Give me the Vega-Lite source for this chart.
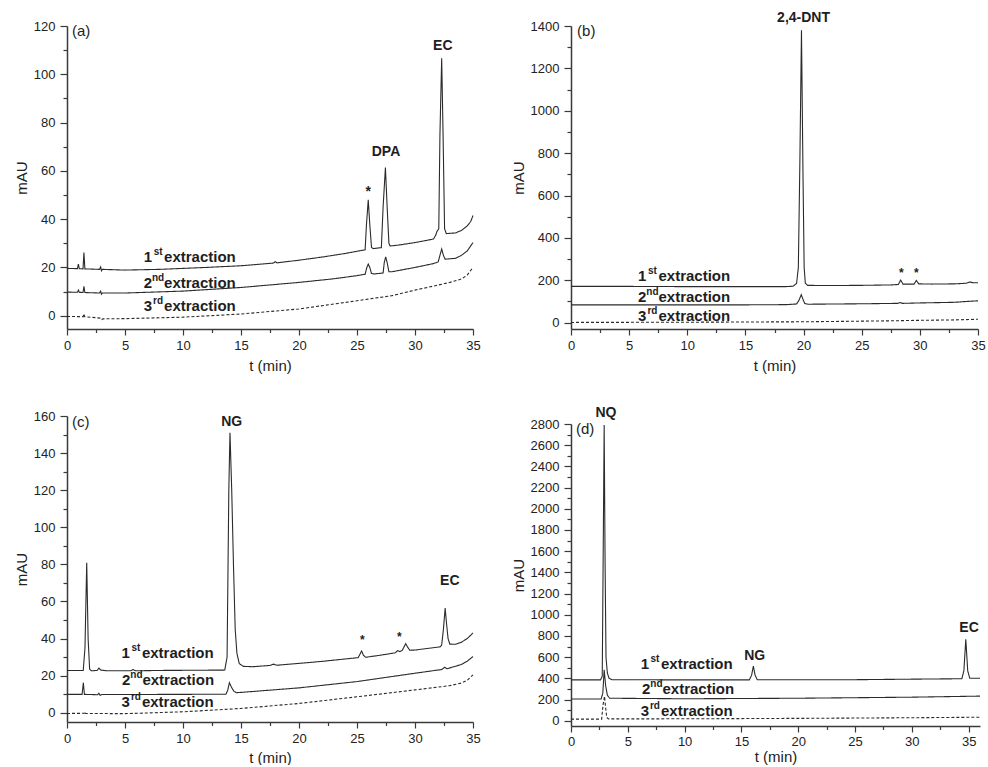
{
  "$schema": "https://vega.github.io/schema/vega-lite/v6.json",
  "padding": {"left": 14, "top": 10, "right": 0, "bottom": 0},
  "background": "white",
  "config": {
    "font": "Liberation Sans",
    "view": {"stroke": null},
    "axis": {
      "grid": false,
      "domainColor": "#3a3a3a",
      "domainWidth": 1.5,
      "tickColor": "#3a3a3a",
      "tickWidth": 1.2,
      "labelColor": "#222",
      "titleColor": "#222",
      "labelFont": "Liberation Sans",
      "titleFont": "Liberation Sans",
      "labelFontSize": 13,
      "titleFontSize": 15,
      "titleFontWeight": "normal",
      "labelOverlap": false,
      "labelFlush": false,
      "labelBound": false
    },
    "text": {"font": "Liberation Sans", "color": "#1e1e1e"}
  },
  "datasets": {
    "a_lines": [
      {"run":"1st","t":0,"mAU":19.6},{"run":"1st","t":0.9,"mAU":19.5},{"run":"1st","t":0.98,"mAU":21.4},{"run":"1st","t":1.06,"mAU":19.5},{"run":"1st","t":1.38,"mAU":19.4},{"run":"1st","t":1.46,"mAU":26.2},{"run":"1st","t":1.54,"mAU":19.4},{"run":"1st","t":2.8,"mAU":19.2},{"run":"1st","t":2.9,"mAU":20.2},{"run":"1st","t":2.97,"mAU":18.6},{"run":"1st","t":3.05,"mAU":19.2},{"run":"1st","t":5,"mAU":18.9},{"run":"1st","t":8,"mAU":19.2},{"run":"1st","t":10,"mAU":19.6},{"run":"1st","t":12,"mAU":20.0},{"run":"1st","t":15,"mAU":20.7},{"run":"1st","t":17.8,"mAU":21.8},{"run":"1st","t":17.95,"mAU":22.4},{"run":"1st","t":18.1,"mAU":21.9},{"run":"1st","t":20,"mAU":23.0},{"run":"1st","t":22,"mAU":24.3},{"run":"1st","t":24,"mAU":25.8},{"run":"1st","t":25,"mAU":26.7},{"run":"1st","t":25.7,"mAU":27.3},{"run":"1st","t":25.82,"mAU":38},{"run":"1st","t":25.97,"mAU":48},{"run":"1st","t":26.1,"mAU":38},{"run":"1st","t":26.25,"mAU":28.3},{"run":"1st","t":26.4,"mAU":27.8},{"run":"1st","t":27.1,"mAU":28.2},{"run":"1st","t":27.25,"mAU":45},{"run":"1st","t":27.45,"mAU":61.4},{"run":"1st","t":27.6,"mAU":45},{"run":"1st","t":27.75,"mAU":30},{"run":"1st","t":27.85,"mAU":28.9},{"run":"1st","t":28.5,"mAU":29.2},{"run":"1st","t":30,"mAU":30.3},{"run":"1st","t":31,"mAU":31.2},{"run":"1st","t":31.6,"mAU":31.8},{"run":"1st","t":31.8,"mAU":33.5},{"run":"1st","t":31.9,"mAU":35},{"run":"1st","t":32.05,"mAU":36},{"run":"1st","t":32.15,"mAU":75},{"run":"1st","t":32.3,"mAU":106.6},{"run":"1st","t":32.42,"mAU":75},{"run":"1st","t":32.55,"mAU":36},{"run":"1st","t":32.7,"mAU":34.0},{"run":"1st","t":33.5,"mAU":34.3},{"run":"1st","t":34,"mAU":35.3},{"run":"1st","t":34.5,"mAU":37.2},{"run":"1st","t":34.8,"mAU":39},{"run":"1st","t":35,"mAU":41.5},
      {"run":"2nd","t":0,"mAU":9.8},{"run":"2nd","t":0.9,"mAU":9.7},{"run":"2nd","t":0.98,"mAU":10.6},{"run":"2nd","t":1.06,"mAU":9.7},{"run":"2nd","t":1.38,"mAU":9.6},{"run":"2nd","t":1.46,"mAU":12.2},{"run":"2nd","t":1.54,"mAU":9.6},{"run":"2nd","t":2.8,"mAU":9.4},{"run":"2nd","t":2.9,"mAU":10.2},{"run":"2nd","t":2.97,"mAU":8.9},{"run":"2nd","t":3.05,"mAU":9.4},{"run":"2nd","t":5,"mAU":9.4},{"run":"2nd","t":10,"mAU":10.2},{"run":"2nd","t":15,"mAU":11.7},{"run":"2nd","t":20,"mAU":13.8},{"run":"2nd","t":23,"mAU":15.3},{"run":"2nd","t":25,"mAU":16.6},{"run":"2nd","t":25.7,"mAU":17.2},{"run":"2nd","t":25.85,"mAU":20},{"run":"2nd","t":25.97,"mAU":21.4},{"run":"2nd","t":26.1,"mAU":20},{"run":"2nd","t":26.25,"mAU":17.5},{"run":"2nd","t":26.5,"mAU":17.3},{"run":"2nd","t":27.25,"mAU":17.7},{"run":"2nd","t":27.35,"mAU":22},{"run":"2nd","t":27.47,"mAU":24.4},{"run":"2nd","t":27.6,"mAU":22},{"run":"2nd","t":27.75,"mAU":18.2},{"run":"2nd","t":28,"mAU":18.2},{"run":"2nd","t":30,"mAU":20},{"run":"2nd","t":31.6,"mAU":21.6},{"run":"2nd","t":32.0,"mAU":22.3},{"run":"2nd","t":32.15,"mAU":25},{"run":"2nd","t":32.3,"mAU":27.6},{"run":"2nd","t":32.45,"mAU":25},{"run":"2nd","t":32.6,"mAU":23.4},{"run":"2nd","t":33.5,"mAU":23.8},{"run":"2nd","t":34,"mAU":25},{"run":"2nd","t":34.5,"mAU":26.8},{"run":"2nd","t":35,"mAU":30.3},
      {"run":"3rd","t":0,"mAU":-0.3},{"run":"3rd","t":1.4,"mAU":-0.4},{"run":"3rd","t":1.46,"mAU":0.8},{"run":"3rd","t":1.52,"mAU":-0.4},{"run":"3rd","t":2.9,"mAU":-1.0},{"run":"3rd","t":3.0,"mAU":-1.6},{"run":"3rd","t":3.1,"mAU":-1.3},{"run":"3rd","t":5,"mAU":-1.2},{"run":"3rd","t":10,"mAU":-0.6},{"run":"3rd","t":15,"mAU":0.7},{"run":"3rd","t":20,"mAU":2.8},{"run":"3rd","t":25,"mAU":6.2},{"run":"3rd","t":28,"mAU":8.3},{"run":"3rd","t":30,"mAU":10.6},{"run":"3rd","t":32,"mAU":12.7},{"run":"3rd","t":33,"mAU":13.8},{"run":"3rd","t":34,"mAU":15.2},{"run":"3rd","t":34.5,"mAU":16.8},{"run":"3rd","t":35,"mAU":20}
    ],
    "a_text": [
      {"kind":"peak","t":25.97,"mAU":51.4,"label":"*"},
      {"kind":"peak","t":27.5,"mAU":68,"label":"DPA"},
      {"kind":"peak","t":32.4,"mAU":111.7,"label":"EC"},
      {"kind":"tag","t":0.43,"mAU":117.9,"label":"(a)"},
      {"kind":"ext","t":8.37,"mAU":24.4,"label":"1","sup":"st","word":"extraction"},
      {"kind":"ext","t":8.37,"mAU":13.7,"label":"2","sup":"nd","word":"extraction"},
      {"kind":"ext","t":8.37,"mAU":4.1,"label":"3","sup":"rd","word":"extraction"}
    ],
    "b_lines": [
      {"run":"1st","t":0,"mAU":171},{"run":"1st","t":5,"mAU":171},{"run":"1st","t":10,"mAU":170},{"run":"1st","t":15,"mAU":170},{"run":"1st","t":18.5,"mAU":170},{"run":"1st","t":19.1,"mAU":172},{"run":"1st","t":19.4,"mAU":185},{"run":"1st","t":19.55,"mAU":260},{"run":"1st","t":19.68,"mAU":750},{"run":"1st","t":19.82,"mAU":1380},{"run":"1st","t":19.95,"mAU":700},{"run":"1st","t":20.05,"mAU":260},{"run":"1st","t":20.15,"mAU":186},{"run":"1st","t":20.35,"mAU":176},{"run":"1st","t":22,"mAU":175},{"run":"1st","t":25,"mAU":176},{"run":"1st","t":27.5,"mAU":178},{"run":"1st","t":28.15,"mAU":180},{"run":"1st","t":28.35,"mAU":201},{"run":"1st","t":28.55,"mAU":182},{"run":"1st","t":29.5,"mAU":182},{"run":"1st","t":29.7,"mAU":199},{"run":"1st","t":29.9,"mAU":183},{"run":"1st","t":31,"mAU":182},{"run":"1st","t":33,"mAU":183},{"run":"1st","t":34,"mAU":186},{"run":"1st","t":34.3,"mAU":192},{"run":"1st","t":34.6,"mAU":188},{"run":"1st","t":35,"mAU":188},
      {"run":"2nd","t":0,"mAU":84},{"run":"2nd","t":10,"mAU":84},{"run":"2nd","t":15,"mAU":84},{"run":"2nd","t":18.5,"mAU":85},{"run":"2nd","t":19.4,"mAU":88},{"run":"2nd","t":19.6,"mAU":105},{"run":"2nd","t":19.8,"mAU":132},{"run":"2nd","t":19.95,"mAU":110},{"run":"2nd","t":20.1,"mAU":90},{"run":"2nd","t":20.4,"mAU":87},{"run":"2nd","t":25,"mAU":89},{"run":"2nd","t":28.1,"mAU":91},{"run":"2nd","t":28.3,"mAU":95},{"run":"2nd","t":28.5,"mAU":91},{"run":"2nd","t":30,"mAU":93},{"run":"2nd","t":33,"mAU":96},{"run":"2nd","t":34,"mAU":100},{"run":"2nd","t":35,"mAU":103},
      {"run":"3rd","t":0,"mAU":1},{"run":"3rd","t":10,"mAU":2},{"run":"3rd","t":20,"mAU":4},{"run":"3rd","t":25,"mAU":7},{"run":"3rd","t":28,"mAU":9},{"run":"3rd","t":30,"mAU":11},{"run":"3rd","t":33,"mAU":13},{"run":"3rd","t":35,"mAU":16}
    ],
    "b_text": [
      {"kind":"peak","t":20.0,"mAU":1439,"label":"2,4-DNT"},
      {"kind":"star","t":28.4,"mAU":236,"label":"*"},
      {"kind":"star","t":29.7,"mAU":236,"label":"*"},
      {"kind":"tag","t":0.52,"mAU":1376,"label":"(b)"},
      {"kind":"ext","t":7.52,"mAU":220,"label":"1","sup":"st","word":"extraction"},
      {"kind":"ext","t":7.52,"mAU":122,"label":"2","sup":"nd","word":"extraction"},
      {"kind":"ext","t":7.52,"mAU":31,"label":"3","sup":"rd","word":"extraction"}
    ],
    "c_lines": [
      {"run":"1st","t":0,"mAU":22.8},{"run":"1st","t":1.4,"mAU":22.8},{"run":"1st","t":1.55,"mAU":35},{"run":"1st","t":1.7,"mAU":80.9},{"run":"1st","t":1.82,"mAU":40},{"run":"1st","t":1.95,"mAU":23.5},{"run":"1st","t":2.1,"mAU":22.6},{"run":"1st","t":2.6,"mAU":22.8},{"run":"1st","t":2.75,"mAU":24},{"run":"1st","t":2.9,"mAU":23},{"run":"1st","t":3.5,"mAU":22.6},{"run":"1st","t":5.5,"mAU":22.6},{"run":"1st","t":5.7,"mAU":23.3},{"run":"1st","t":5.9,"mAU":22.6},{"run":"1st","t":8,"mAU":22.8},{"run":"1st","t":11,"mAU":22.9},{"run":"1st","t":13.6,"mAU":23},{"run":"1st","t":13.8,"mAU":30},{"run":"1st","t":13.95,"mAU":120},{"run":"1st","t":14.05,"mAU":151},{"run":"1st","t":14.2,"mAU":120},{"run":"1st","t":14.35,"mAU":80},{"run":"1st","t":14.5,"mAU":45},{"run":"1st","t":14.65,"mAU":32},{"run":"1st","t":14.85,"mAU":26.5},{"run":"1st","t":15.2,"mAU":25},{"run":"1st","t":16,"mAU":24.8},{"run":"1st","t":17.5,"mAU":25.5},{"run":"1st","t":17.8,"mAU":26.2},{"run":"1st","t":18.1,"mAU":25.6},{"run":"1st","t":20,"mAU":26.6},{"run":"1st","t":22,"mAU":27.7},{"run":"1st","t":24,"mAU":29.0},{"run":"1st","t":25.1,"mAU":29.7},{"run":"1st","t":25.25,"mAU":31.5},{"run":"1st","t":25.4,"mAU":33.3},{"run":"1st","t":25.55,"mAU":31},{"run":"1st","t":25.75,"mAU":29.9},{"run":"1st","t":27,"mAU":31},{"run":"1st","t":28.3,"mAU":32.3},{"run":"1st","t":28.5,"mAU":33.5},{"run":"1st","t":28.7,"mAU":33},{"run":"1st","t":28.9,"mAU":33.6},{"run":"1st","t":29.05,"mAU":35.5},{"run":"1st","t":29.2,"mAU":37.2},{"run":"1st","t":29.35,"mAU":35.5},{"run":"1st","t":29.55,"mAU":33.7},{"run":"1st","t":30,"mAU":33.8},{"run":"1st","t":31,"mAU":34.6},{"run":"1st","t":32.15,"mAU":35.5},{"run":"1st","t":32.3,"mAU":36.5},{"run":"1st","t":32.45,"mAU":45},{"run":"1st","t":32.6,"mAU":56.4},{"run":"1st","t":32.72,"mAU":48},{"run":"1st","t":32.85,"mAU":40},{"run":"1st","t":33.0,"mAU":37},{"run":"1st","t":33.5,"mAU":36.9},{"run":"1st","t":34,"mAU":38},{"run":"1st","t":34.5,"mAU":40},{"run":"1st","t":35,"mAU":43},
      {"run":"2nd","t":0,"mAU":9.9},{"run":"2nd","t":1.3,"mAU":9.9},{"run":"2nd","t":1.41,"mAU":16.2},{"run":"2nd","t":1.5,"mAU":9.9},{"run":"2nd","t":2.65,"mAU":9.7},{"run":"2nd","t":2.75,"mAU":10.5},{"run":"2nd","t":2.85,"mAU":9.4},{"run":"2nd","t":3,"mAU":9.8},{"run":"2nd","t":10,"mAU":9.9},{"run":"2nd","t":13.7,"mAU":10},{"run":"2nd","t":13.85,"mAU":12},{"run":"2nd","t":14.0,"mAU":16.2},{"run":"2nd","t":14.2,"mAU":13.5},{"run":"2nd","t":14.4,"mAU":11.5},{"run":"2nd","t":14.6,"mAU":10.8},{"run":"2nd","t":15.5,"mAU":11.2},{"run":"2nd","t":20,"mAU":13.4},{"run":"2nd","t":25,"mAU":16.8},{"run":"2nd","t":30,"mAU":21.3},{"run":"2nd","t":32.3,"mAU":23.3},{"run":"2nd","t":32.55,"mAU":24.5},{"run":"2nd","t":32.75,"mAU":23.7},{"run":"2nd","t":34,"mAU":26},{"run":"2nd","t":34.5,"mAU":27.8},{"run":"2nd","t":35,"mAU":30.3},
      {"run":"3rd","t":0,"mAU":-0.4},{"run":"3rd","t":1.5,"mAU":-0.3},{"run":"3rd","t":1.55,"mAU":0.5},{"run":"3rd","t":1.6,"mAU":-0.4},{"run":"3rd","t":5,"mAU":-0.5},{"run":"3rd","t":10,"mAU":0.5},{"run":"3rd","t":15,"mAU":2.3},{"run":"3rd","t":20,"mAU":5},{"run":"3rd","t":25,"mAU":8.6},{"run":"3rd","t":30,"mAU":12.3},{"run":"3rd","t":33,"mAU":14.6},{"run":"3rd","t":34,"mAU":16},{"run":"3rd","t":34.5,"mAU":17.5},{"run":"3rd","t":35,"mAU":20.4}
    ],
    "c_text": [
      {"kind":"peak","t":14.2,"mAU":157,"label":"NG"},
      {"kind":"peak","t":33.0,"mAU":71,"label":"EC"},
      {"kind":"star","t":25.46,"mAU":39.4,"label":"*"},
      {"kind":"star","t":28.65,"mAU":40.8,"label":"*"},
      {"kind":"tag","t":0.43,"mAU":156.7,"label":"(c)"},
      {"kind":"ext","t":6.46,"mAU":32.0,"label":"1","sup":"st","word":"extraction"},
      {"kind":"ext","t":6.5,"mAU":17.5,"label":"2","sup":"nd","word":"extraction"},
      {"kind":"ext","t":6.46,"mAU":5.8,"label":"3","sup":"rd","word":"extraction"}
    ],
    "d_lines": [
      {"run":"1st","t":0,"mAU":385},{"run":"1st","t":2.6,"mAU":385},{"run":"1st","t":2.75,"mAU":420},{"run":"1st","t":2.85,"mAU":1800},{"run":"1st","t":2.92,"mAU":2790},{"run":"1st","t":3.0,"mAU":1500},{"run":"1st","t":3.08,"mAU":600},{"run":"1st","t":3.2,"mAU":450},{"run":"1st","t":3.35,"mAU":400},{"run":"1st","t":3.6,"mAU":387},{"run":"1st","t":10,"mAU":385},{"run":"1st","t":15.7,"mAU":385},{"run":"1st","t":15.9,"mAU":430},{"run":"1st","t":16.05,"mAU":516},{"run":"1st","t":16.2,"mAU":430},{"run":"1st","t":16.4,"mAU":386},{"run":"1st","t":25,"mAU":387},{"run":"1st","t":30,"mAU":392},{"run":"1st","t":34.4,"mAU":396},{"run":"1st","t":34.58,"mAU":470},{"run":"1st","t":34.75,"mAU":768},{"run":"1st","t":34.92,"mAU":470},{"run":"1st","t":35.1,"mAU":400},{"run":"1st","t":36,"mAU":400},
      {"run":"2nd","t":0,"mAU":205},{"run":"2nd","t":2.65,"mAU":205},{"run":"2nd","t":2.8,"mAU":260},{"run":"2nd","t":2.92,"mAU":480},{"run":"2nd","t":3.05,"mAU":330},{"run":"2nd","t":3.2,"mAU":240},{"run":"2nd","t":3.4,"mAU":212},{"run":"2nd","t":10,"mAU":207},{"run":"2nd","t":20,"mAU":212},{"run":"2nd","t":30,"mAU":222},{"run":"2nd","t":36,"mAU":232},
      {"run":"3rd","t":0,"mAU":15},{"run":"3rd","t":2.7,"mAU":15},{"run":"3rd","t":2.82,"mAU":150},{"run":"3rd","t":2.95,"mAU":230},{"run":"3rd","t":3.05,"mAU":120},{"run":"3rd","t":3.15,"mAU":30},{"run":"3rd","t":3.3,"mAU":17},{"run":"3rd","t":10,"mAU":18},{"run":"3rd","t":20,"mAU":22},{"run":"3rd","t":30,"mAU":28},{"run":"3rd","t":36,"mAU":33}
    ],
    "d_text": [
      {"kind":"peak","t":3.08,"mAU":2904,"label":"NQ"},
      {"kind":"peak","t":16.17,"mAU":611,"label":"NG"},
      {"kind":"peak","t":35.04,"mAU":878,"label":"EC"},
      {"kind":"tag","t":0.44,"mAU":2753,"label":"(d)"},
      {"kind":"ext","t":7.92,"mAU":535,"label":"1","sup":"st","word":"extraction"},
      {"kind":"ext","t":8.05,"mAU":299,"label":"2","sup":"nd","word":"extraction"},
      {"kind":"ext","t":7.92,"mAU":92,"label":"3","sup":"rd","word":"extraction"}
    ]
  },
  "spacing": 30,
  "hconcat": [
    {
      "bounds": "flush",
      "spacing": 87,
      "vconcat": [
        {
          "width": 406, "height": 303,
          "encoding": {
            "x": {"field": "t", "type": "quantitative", "scale": {"domain": [0, 35], "nice": false, "zero": false},
              "axis": {"title": "t (min)", "values": [0,2.5,5,7.5,10,12.5,15,17.5,20,22.5,25,27.5,30,32.5,35], "labelExpr": "datum.value % 5 === 0 ? datum.label : ''", "tickSize": {"condition": {"test": "datum.value % 5 === 0", "value": 6}, "value": 3.5}, "labelPadding": 4, "titlePadding": 6}},
            "y": {"field": "mAU", "type": "quantitative", "scale": {"domain": [-5.5, 120], "nice": false, "zero": false},
              "axis": {"title": "mAU", "values": [0,10,20,30,40,50,60,70,80,90,100,110,120], "labelExpr": "datum.value % 20 === 0 ? datum.label : ''", "tickSize": {"condition": {"test": "datum.value % 20 === 0", "value": 7}, "value": 4}, "labelPadding": 5, "titlePadding": 4}}
          },
          "layer": [
            {"data": {"name": "a_lines"}, "mark": {"type": "line", "color": "#2b2b2b", "strokeWidth": 1.1},
             "encoding": {"strokeDash": {"field": "run", "type": "nominal", "scale": {"domain": ["1st","2nd","3rd"], "range": [[1,0],[1,0],[3,2]]}, "legend": null}}},
            {"data": {"name": "a_text"}, "transform": [{"filter": "datum.kind === 'peak'"}], "mark": {"type": "text", "fontWeight": "bold", "fontSize": 14, "align": "center", "baseline": "middle"}, "encoding": {"text": {"field": "label"}}},
            {"data": {"name": "a_text"}, "transform": [{"filter": "datum.kind === 'tag'"}], "mark": {"type": "text", "fontSize": 15, "align": "left", "baseline": "middle"}, "encoding": {"text": {"field": "label"}}},
            {"data": {"name": "a_text"}, "transform": [{"filter": "datum.kind === 'ext'"}], "mark": {"type": "text", "fontWeight": "bold", "fontSize": 15, "align": "right", "baseline": "middle", "dx": -12}, "encoding": {"text": {"field": "label"}}},
            {"data": {"name": "a_text"}, "transform": [{"filter": "datum.kind === 'ext'"}], "mark": {"type": "text", "fontWeight": "bold", "fontSize": 10, "align": "center", "baseline": "middle", "dx": -6, "dy": -5}, "encoding": {"text": {"field": "sup"}}},
            {"data": {"name": "a_text"}, "transform": [{"filter": "datum.kind === 'ext'"}], "mark": {"type": "text", "fontWeight": "bold", "fontSize": 15, "align": "left", "baseline": "middle"}, "encoding": {"text": {"field": "word"}}}
          ]
        },
        {
          "width": 406, "height": 306,
          "encoding": {
            "x": {"field": "t", "type": "quantitative", "scale": {"domain": [0, 35], "nice": false, "zero": false},
              "axis": {"title": "t (min)", "values": [0,2.5,5,7.5,10,12.5,15,17.5,20,22.5,25,27.5,30,32.5,35], "labelExpr": "datum.value % 5 === 0 ? datum.label : ''", "tickSize": {"condition": {"test": "datum.value % 5 === 0", "value": 6}, "value": 3.5}, "labelPadding": 4, "titlePadding": 5}},
            "y": {"field": "mAU", "type": "quantitative", "scale": {"domain": [-5, 160], "nice": false, "zero": false},
              "axis": {"title": "mAU", "values": [0,10,20,30,40,50,60,70,80,90,100,110,120,130,140,150,160], "labelExpr": "datum.value % 20 === 0 ? datum.label : ''", "tickSize": {"condition": {"test": "datum.value % 20 === 0", "value": 7}, "value": 4}, "labelPadding": 5, "titlePadding": 4}}
          },
          "layer": [
            {"data": {"name": "c_lines"}, "mark": {"type": "line", "color": "#2b2b2b", "strokeWidth": 1.1},
             "encoding": {"strokeDash": {"field": "run", "type": "nominal", "scale": {"domain": ["1st","2nd","3rd"], "range": [[1,0],[1,0],[3,2]]}, "legend": null}}},
            {"data": {"name": "c_text"}, "transform": [{"filter": "datum.kind === 'peak'"}], "mark": {"type": "text", "fontWeight": "bold", "fontSize": 14, "align": "center", "baseline": "middle"}, "encoding": {"text": {"field": "label"}}},
            {"data": {"name": "c_text"}, "transform": [{"filter": "datum.kind === 'star'"}], "mark": {"type": "text", "fontWeight": "bold", "fontSize": 12, "align": "center", "baseline": "middle"}, "encoding": {"text": {"field": "label"}}},
            {"data": {"name": "c_text"}, "transform": [{"filter": "datum.kind === 'tag'"}], "mark": {"type": "text", "fontSize": 15, "align": "left", "baseline": "middle"}, "encoding": {"text": {"field": "label"}}},
            {"data": {"name": "c_text"}, "transform": [{"filter": "datum.kind === 'ext'"}], "mark": {"type": "text", "fontWeight": "bold", "fontSize": 15, "align": "right", "baseline": "middle", "dx": -12}, "encoding": {"text": {"field": "label"}}},
            {"data": {"name": "c_text"}, "transform": [{"filter": "datum.kind === 'ext'"}], "mark": {"type": "text", "fontWeight": "bold", "fontSize": 10, "align": "center", "baseline": "middle", "dx": -6, "dy": -5}, "encoding": {"text": {"field": "sup"}}},
            {"data": {"name": "c_text"}, "transform": [{"filter": "datum.kind === 'ext'"}], "mark": {"type": "text", "fontWeight": "bold", "fontSize": 15, "align": "left", "baseline": "middle"}, "encoding": {"text": {"field": "word"}}}
          ]
        }
      ]
    },
    {
      "bounds": "flush",
      "spacing": 95,
      "vconcat": [
        {
          "width": 407, "height": 303,
          "encoding": {
            "x": {"field": "t", "type": "quantitative", "scale": {"domain": [0, 35], "nice": false, "zero": false},
              "axis": {"title": "t (min)", "values": [0,2.5,5,7.5,10,12.5,15,17.5,20,22.5,25,27.5,30,32.5,35], "labelExpr": "datum.value % 5 === 0 ? datum.label : ''", "tickSize": {"condition": {"test": "datum.value % 5 === 0", "value": 6}, "value": 3.5}, "labelPadding": 4, "titlePadding": 6}},
            "y": {"field": "mAU", "type": "quantitative", "scale": {"domain": [-30, 1400], "nice": false, "zero": false},
              "axis": {"title": "mAU", "values": [0,100,200,300,400,500,600,700,800,900,1000,1100,1200,1300,1400], "labelExpr": "datum.value % 200 === 0 ? datum.label : ''", "format": "d", "tickSize": {"condition": {"test": "datum.value % 200 === 0", "value": 7}, "value": 4}, "labelPadding": 5, "titlePadding": 4}}
          },
          "layer": [
            {"data": {"name": "b_lines"}, "mark": {"type": "line", "color": "#2b2b2b", "strokeWidth": 1.1},
             "encoding": {"strokeDash": {"field": "run", "type": "nominal", "scale": {"domain": ["1st","2nd","3rd"], "range": [[1,0],[1,0],[3,2]]}, "legend": null}}},
            {"data": {"name": "b_text"}, "transform": [{"filter": "datum.kind === 'peak'"}], "mark": {"type": "text", "fontWeight": "bold", "fontSize": 14, "align": "center", "baseline": "middle"}, "encoding": {"text": {"field": "label"}}},
            {"data": {"name": "b_text"}, "transform": [{"filter": "datum.kind === 'star'"}], "mark": {"type": "text", "fontWeight": "bold", "fontSize": 12, "align": "center", "baseline": "middle"}, "encoding": {"text": {"field": "label"}}},
            {"data": {"name": "b_text"}, "transform": [{"filter": "datum.kind === 'tag'"}], "mark": {"type": "text", "fontSize": 15, "align": "left", "baseline": "middle"}, "encoding": {"text": {"field": "label"}}},
            {"data": {"name": "b_text"}, "transform": [{"filter": "datum.kind === 'ext'"}], "mark": {"type": "text", "fontWeight": "bold", "fontSize": 15, "align": "right", "baseline": "middle", "dx": -12}, "encoding": {"text": {"field": "label"}}},
            {"data": {"name": "b_text"}, "transform": [{"filter": "datum.kind === 'ext'"}], "mark": {"type": "text", "fontWeight": "bold", "fontSize": 10, "align": "center", "baseline": "middle", "dx": -6, "dy": -5}, "encoding": {"text": {"field": "sup"}}},
            {"data": {"name": "b_text"}, "transform": [{"filter": "datum.kind === 'ext'"}], "mark": {"type": "text", "fontWeight": "bold", "fontSize": 15, "align": "left", "baseline": "middle"}, "encoding": {"text": {"field": "word"}}}
          ]
        },
        {
          "width": 409, "height": 302,
          "encoding": {
            "x": {"field": "t", "type": "quantitative", "scale": {"domain": [0, 36], "nice": false, "zero": false},
              "axis": {"title": "t (min)", "values": [0,2.5,5,7.5,10,12.5,15,17.5,20,22.5,25,27.5,30,32.5,35], "labelExpr": "datum.value % 5 === 0 ? datum.label : ''", "tickSize": {"condition": {"test": "datum.value % 5 === 0", "value": 6}, "value": 3.5}, "labelPadding": 3, "titlePadding": 1}},
            "y": {"field": "mAU", "type": "quantitative", "scale": {"domain": [-50, 2800], "nice": false, "zero": false},
              "axis": {"title": "mAU", "values": [0,100,200,300,400,500,600,700,800,900,1000,1100,1200,1300,1400,1500,1600,1700,1800,1900,2000,2100,2200,2300,2400,2500,2600,2700,2800], "labelExpr": "datum.value % 200 === 0 ? datum.label : ''", "format": "d", "tickSize": {"condition": {"test": "datum.value % 200 === 0", "value": 7}, "value": 4}, "labelPadding": 5, "titlePadding": 4}}
          },
          "layer": [
            {"data": {"name": "d_lines"}, "mark": {"type": "line", "color": "#2b2b2b", "strokeWidth": 1.1},
             "encoding": {"strokeDash": {"field": "run", "type": "nominal", "scale": {"domain": ["1st","2nd","3rd"], "range": [[1,0],[1,0],[3,2]]}, "legend": null}}},
            {"data": {"name": "d_text"}, "transform": [{"filter": "datum.kind === 'peak'"}], "mark": {"type": "text", "fontWeight": "bold", "fontSize": 14, "align": "center", "baseline": "middle"}, "encoding": {"text": {"field": "label"}}},
            {"data": {"name": "d_text"}, "transform": [{"filter": "datum.kind === 'tag'"}], "mark": {"type": "text", "fontSize": 15, "align": "left", "baseline": "middle"}, "encoding": {"text": {"field": "label"}}},
            {"data": {"name": "d_text"}, "transform": [{"filter": "datum.kind === 'ext'"}], "mark": {"type": "text", "fontWeight": "bold", "fontSize": 15, "align": "right", "baseline": "middle", "dx": -12}, "encoding": {"text": {"field": "label"}}},
            {"data": {"name": "d_text"}, "transform": [{"filter": "datum.kind === 'ext'"}], "mark": {"type": "text", "fontWeight": "bold", "fontSize": 10, "align": "center", "baseline": "middle", "dx": -6, "dy": -5}, "encoding": {"text": {"field": "sup"}}},
            {"data": {"name": "d_text"}, "transform": [{"filter": "datum.kind === 'ext'"}], "mark": {"type": "text", "fontWeight": "bold", "fontSize": 15, "align": "left", "baseline": "middle"}, "encoding": {"text": {"field": "word"}}}
          ]
        }
      ]
    }
  ]
}
